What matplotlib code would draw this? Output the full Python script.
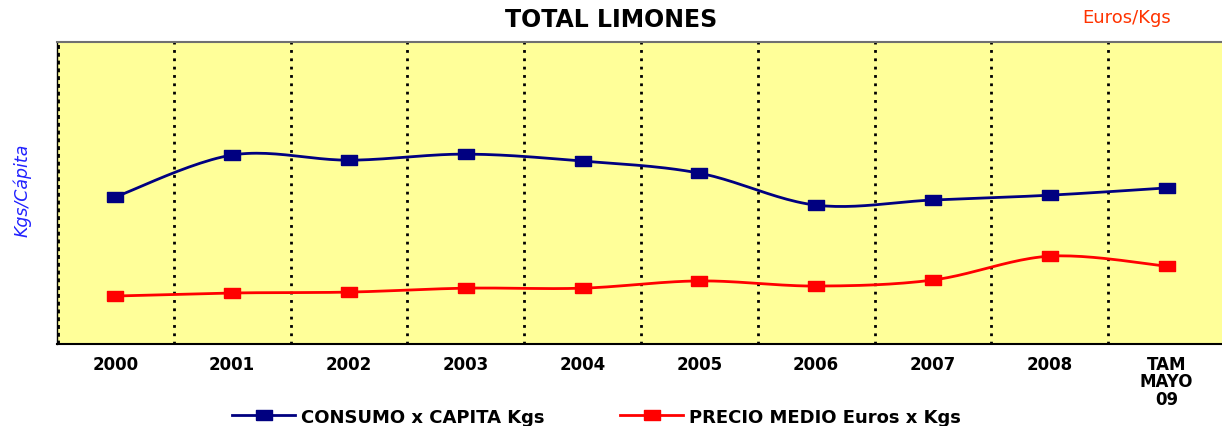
import numpy as np
import matplotlib.pyplot as plt

# datos (escala arbitraria, el grafico original no muestra valores del eje)
categorias = ['2000', '2001', '2002', '2003', '2004', '2005', '2006', '2007', '2008', 'TAM\nMAYO\n09']
consumo = [4.87, 6.26, 6.09, 6.29, 6.06, 5.66, 4.60, 4.77, 4.93, 5.17]
precio = [1.59, 1.69, 1.72, 1.85, 1.85, 2.09, 1.92, 2.12, 2.91, 2.58]


def suavizar(x, y, n=24):
    # curva Catmull-Rom entre los puntos (como la linea suavizada de Excel)
    x = np.asarray(x, float)
    y = np.asarray(y, float)
    px = np.concatenate([[x[0]], x, [x[-1]]])
    py = np.concatenate([[y[0]], y, [y[-1]]])
    xs, ys = [], []
    for i in range(1, len(px) - 2):
        t = np.linspace(0, 1, n, endpoint=False)
        for p, out in ((px, xs), (py, ys)):
            p0, p1, p2, p3 = p[i - 1], p[i], p[i + 1], p[i + 2]
            out.extend(0.5 * (2 * p1 + (-p0 + p2) * t + (2 * p0 - 5 * p1 + 4 * p2 - p3) * t**2
                              + (-p0 + 3 * p1 - 3 * p2 + p3) * t**3))
    xs.append(x[-1])
    ys.append(y[-1])
    return xs, ys


fig = plt.figure(figsize=(12.22, 4.27), dpi=100)
ax = fig.add_axes([0.0466, 0.192, 0.9534, 0.707])
ax.set_facecolor('#ffff99')

x = np.arange(len(categorias))
marca = [(-1, -0.6), (1, -0.6), (1, 0.6), (-1, 0.6), (-1, -0.6)]

for serie, color, nombre in ((consumo, '#000080', 'CONSUMO x CAPITA Kgs'),
                             (precio, '#ff0000', 'PRECIO MEDIO Euros x Kgs')):
    sx, sy = suavizar(x, serie)
    ax.plot(sx, sy, color=color, lw=2, zorder=3)
    ax.plot(x, serie, ls='none', marker=marca, ms=11, color=color, zorder=4)
    ax.plot([], [], color=color, lw=2, marker=marca, ms=11, label=nombre)

for b in np.arange(0.5, len(categorias) - 1, 1):
    ax.axvline(b, color='black', lw=2, ls=(0, (1, 2)), zorder=2)
ax.axvline(-0.5, color='black', lw=3.5, ls=(0, (0.8, 0.8)), zorder=2)

ax.set_xlim(-0.5, 9.475)
ax.set_ylim(0, 10)
ax.set_yticks([])
ax.set_xticks(x)
ax.set_xticklabels(categorias, fontsize=12, fontweight='bold', linespacing=0.95)
ax.tick_params(axis='x', length=0, pad=8)

ax.spines['top'].set_color('#707070')
ax.spines['top'].set_linewidth(1.5)
ax.spines['bottom'].set_color('black')
ax.spines['bottom'].set_linewidth(1.5)
ax.spines['left'].set_color('black')
ax.spines['left'].set_linewidth(1)
ax.spines['right'].set_visible(False)

fig.text(0.5, 0.953, 'TOTAL LIMONES', ha='center', va='center', fontsize=17, fontweight='bold')
fig.text(0.922, 0.957, 'Euros/Kgs', ha='center', va='center', fontsize=13, color='#ff3300')
fig.text(0.018, 0.555, 'Kgs/Cápita', ha='center', va='center', rotation=90, fontsize=12.5,
         style='italic', color='#2222ff')

fig.legend(loc='center', bbox_to_anchor=(0.488, 0.022), ncol=2, frameon=False,
           prop={'size': 13, 'weight': 'bold'}, handlelength=3.5, columnspacing=4.2,
           handletextpad=0.3)

fig.savefig('out.png', dpi=100)
